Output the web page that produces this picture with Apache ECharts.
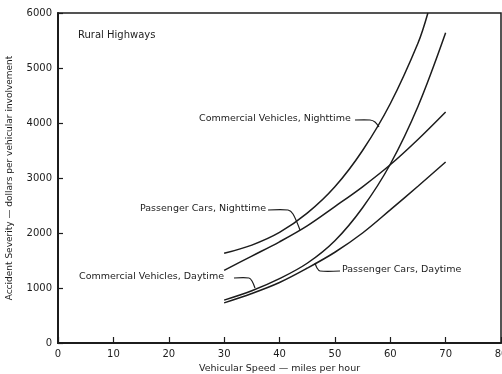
<!DOCTYPE html>
<html>
<head>
<meta charset="utf-8">
<script src="https://cdn.jsdelivr.net/npm/echarts@6/dist/echarts.min.js"></script>
<style>
  html, body { margin: 0; padding: 0; background: #fff; }
  #chart { width: 502px; height: 374px; }
</style>
</head>
<body>
<div id="chart"></div>
<script>
// Accident severity vs. vehicular speed, rural highways
const speedCommercialNight = [30, 35, 40, 45, 50, 55, 60, 65, 66.8];
const costCommercialNight  = [1630, 1780, 2010, 2360, 2840, 3500, 4350, 5450, 6000];

const speedPassengerNight = [30, 35, 40, 45, 50, 55, 60, 65, 70];
const costPassengerNight  = [1320, 1580, 1840, 2130, 2480, 2840, 3240, 3700, 4200];

const speedCommercialDay = [30, 35, 40, 45, 50, 55, 60, 65, 70];
const costCommercialDay  = [780, 950, 1170, 1450, 1860, 2460, 3250, 4300, 5640];

const speedPassengerDay = [30, 35, 40, 45, 50, 55, 60, 65, 70];
const costPassengerDay  = [730, 900, 1100, 1360, 1650, 2000, 2420, 2850, 3290];

const xTicks = [0, 10, 20, 30, 40, 50, 60, 70, 80];
const yTicks = [0, 1000, 2000, 3000, 4000, 5000, 6000];

const ink = '#1c1c1c';
const font = '"DejaVu Sans", sans-serif';

function pairs(xs, ys) { return xs.map((x, i) => [x, ys[i]]); }

function curve(name, xs, ys) {
  return {
    name: name,
    type: 'line',
    data: pairs(xs, ys),
    smooth: 0.35,
    showSymbol: false,
    symbol: 'none',
    silent: true,
    lineStyle: { color: ink, width: 1.5 }
  };
}

function note(text, x, y, size) {
  return {
    type: 'text', left: x, top: y - 6,
    style: { text: text, fill: ink, font: (size || 9.5) + 'px ' + font }
  };
}

function leader(points) {
  return {
    type: 'polyline',
    shape: { points: points, smooth: 0.3 },
    style: { stroke: ink, lineWidth: 1.2, fill: null }
  };
}

const chart = echarts.init(document.getElementById('chart'), null, { renderer: 'canvas' });

chart.setOption({
  animation: false,
  backgroundColor: '#ffffff',
  grid: {
    left: 58, right: 1, top: 13, bottom: 31,
    containLabel: false, outerBoundsMode: 'none',
    show: true, borderColor: ink, borderWidth: 1.5, backgroundColor: 'transparent'
  },
  xAxis: {
    type: 'value', min: xTicks[0], max: xTicks[xTicks.length - 1], interval: 10,
    name: 'Vehicular Speed — miles per hour',
    nameLocation: 'middle', nameGap: 20,
    nameTextStyle: { color: ink, fontSize: 9.5, fontFamily: font },
    axisLine: { show: true, lineStyle: { color: ink, width: 2 } },
    axisTick: { show: true, inside: true, length: 6, lineStyle: { color: ink, width: 1.2 } },
    axisLabel: { color: ink, fontSize: 10, fontFamily: font, margin: 6,
                 formatter: v => String(v) },
    splitLine: { show: false }
  },
  yAxis: {
    type: 'value', min: yTicks[0], max: yTicks[yTicks.length - 1], interval: 1000,
    name: 'Accident Severity — dollars per vehicular involvement',
    nameLocation: 'middle', nameGap: 44, nameRotate: 90,
    nameTextStyle: { color: ink, fontSize: 9, fontFamily: font },
    axisLine: { show: true, lineStyle: { color: ink, width: 2 } },
    axisTick: { show: true, inside: true, length: 5, lineStyle: { color: ink, width: 1.2 } },
    axisLabel: { color: ink, fontSize: 10, fontFamily: font, margin: 6,
                 formatter: v => String(v) },
    splitLine: { show: false }
  },
  series: [
    curve('Commercial Vehicles, Nighttime', speedCommercialNight, costCommercialNight),
    curve('Passenger Cars, Nighttime', speedPassengerNight, costPassengerNight),
    curve('Commercial Vehicles, Daytime', speedCommercialDay, costCommercialDay),
    curve('Passenger Cars, Daytime', speedPassengerDay, costPassengerDay)
  ],
  graphic: [
    note('Rural Highways', 78, 36, 10),
    note('Commercial Vehicles, Nighttime', 199, 120),
    leader([[355, 120], [370, 120], [375, 122], [379, 127]]),
    note('Passenger Cars, Nighttime', 140, 210),
    leader([[268, 210], [288, 210], [293, 214], [300, 230]]),
    note('Commercial Vehicles, Daytime', 79, 278),
    leader([[234, 278], [249, 278], [252, 281], [255, 288]]),
    note('Passenger Cars, Daytime', 342, 271),
    leader([[340, 271], [320, 271], [317, 268], [315, 263]])
  ]
});
</script>
</body>
</html>
